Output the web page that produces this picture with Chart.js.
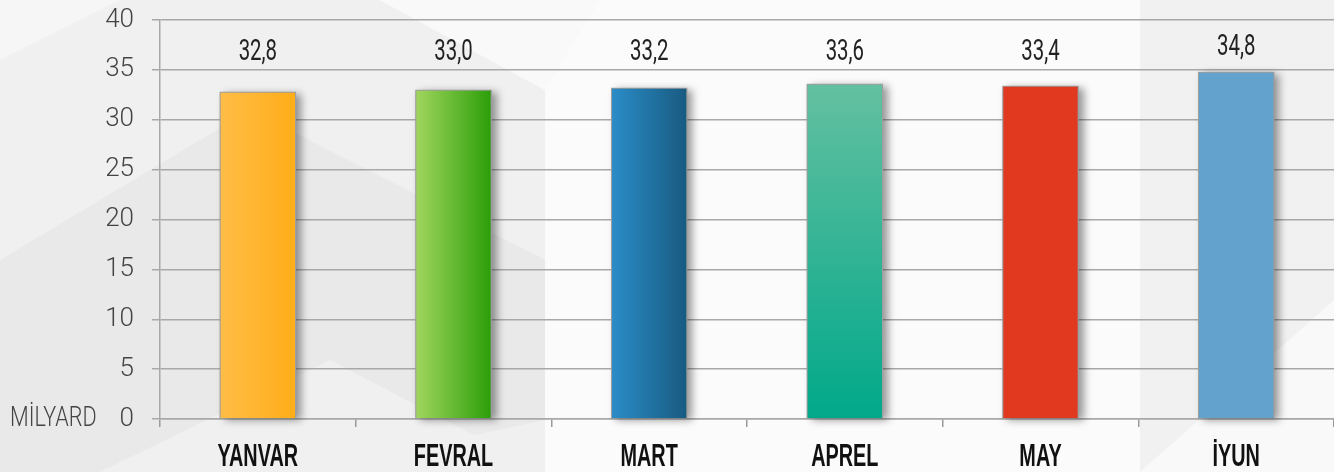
<!DOCTYPE html>
<html>
<head>
<meta charset="utf-8">
<script src="https://cdn.jsdelivr.net/npm/chart.js@4.4.1/dist/chart.umd.min.js"></script>
<style>
  html, body { margin: 0; padding: 0; background: #fbfbfb; }
  #wrap { width: 1334px; height: 472px; }
</style>
</head>
<body>
<div id="wrap"><canvas id="chart"></canvas></div>
<script>
// dữ liệu
const months = ["YANVAR", "FEVRAL", "MART", "APREL", "MAY", "İYUN"];
const values = [32.8, 33.0, 33.2, 33.6, 33.4, 34.8];
const valueLabels = ["32,8", "33,0", "33,2", "33,6", "33,4", "34,8"];
const yTicks = [0, 5, 10, 15, 20, 25, 30, 35, 40];
const unitLabel = "MİLYARD";

// màu cột: [đầu, cuối, hướng]
const barColors = [
    ["#ffbd47", "#ffad18", "h"],
    ["#a2d65e", "#2b9e08", "h"],
    ["#2b8dc8", "#185a80", "h"],
    ["#64c0a0", "#00a88a", "v"],
    ["#e0391f", "#e0391f", "h"],
    ["#62a2cc", "#62a2cc", "h"]
];

const BAR_PCT = 0.39;

function barFill(ctx) {
    const chart = ctx.chart;
    const c = barColors[ctx.dataIndex];
    if (!chart.chartArea || c[0] === c[1]) return c[0];
    const xs = chart.scales.x, ys = chart.scales.y;
    const xc = xs.getPixelForValue(ctx.dataIndex);
    const half = xs.width / months.length * BAR_PCT / 2;
    let g;
    if (c[2] === "h") {
        g = chart.ctx.createLinearGradient(xc - half, 0, xc + half, 0);
    } else {
        g = chart.ctx.createLinearGradient(0, ys.getPixelForValue(values[ctx.dataIndex]), 0, ys.getPixelForValue(0));
    }
    g.addColorStop(0, c[0]);
    g.addColorStop(1, c[1]);
    return g;
}

// nền trang trí
const bgPlugin = {
    id: "bg",
    beforeDraw(chart) {
        const ctx = chart.ctx;
        ctx.save();
        const poly = (pts, col) => {
            ctx.beginPath();
            ctx.moveTo(pts[0][0], pts[0][1]);
            for (let i = 1; i < pts.length; i++) ctx.lineTo(pts[i][0], pts[i][1]);
            ctx.closePath();
            ctx.fillStyle = col;
            ctx.fill();
        };
        poly([[0, 0], [380, 0], [545, 90], [545, 472], [0, 472]], "#f0f0f0");
        poly([[0, 260], [250, 110], [545, 260], [545, 420], [300, 472], [0, 472]], "#e9e9e9");
        poly([[0, 60], [120, 0], [0, 0]], "#f6f6f6");
        poly([[100, 472], [330, 360], [545, 472]], "#f0f0f0");
        poly([[380, 0], [600, 0], [545, 90]], "#f9f9f9");
        poly([[1140, 0], [1334, 0], [1334, 472], [1140, 472]], "#f1f1f1");
        poly([[1140, 472], [1334, 300], [1334, 472]], "#f9f9f9");
        ctx.restore();
    }
};

// bóng đổ cho cột (vẽ trước các cột)
const shadowPlugin = {
    id: "barShadow",
    beforeDatasetsDraw(chart) {
        const ctx = chart.ctx;
        const meta = chart.getDatasetMeta(0);
        ctx.save();
        ctx.shadowColor = "rgba(0,0,0,0.4)";
        ctx.shadowBlur = 8;
        ctx.shadowOffsetX = 5;
        ctx.shadowOffsetY = 2;
        ctx.fillStyle = "#999";
        meta.data.forEach(bar => {
            const p = bar.getProps(["x", "y", "base", "width"], true);
            ctx.fillRect(p.x - p.width / 2, p.y, p.width, p.base - p.y);
        });
        ctx.restore();
    }
};

// nhãn giá trị, nhãn tháng, đơn vị
const labelPlugin = {
    id: "labels",
    afterDraw(chart) {
        const ctx = chart.ctx;
        const xs = chart.scales.x, ys = chart.scales.y;
        ctx.save();
        ctx.textAlign = "center";
        ctx.textBaseline = "middle";
        ctx.fillStyle = "#222";
        ctx.font = "30px Roboto, sans-serif";
        values.forEach((v, i) => {
            const y = ys.getPixelForValue(Math.max(v + 2.4, 36.7));
            ctx.save();
            ctx.translate(xs.getPixelForValue(i), y);
            ctx.scale(0.68, 1);
            ctx.fillText(valueLabels[i], 0, 0);
            ctx.restore();
        });
        ctx.fillStyle = "#111";
        ctx.font = "bold 32px 'Liberation Sans', 'DejaVu Sans', sans-serif";
        months.forEach((m, i) => {
            ctx.save();
            ctx.translate(xs.getPixelForValue(i), 457);
            ctx.scale(0.62, 1);
            ctx.fillText(m, 0, 0);
            ctx.restore();
        });
        ctx.fillStyle = "#444";
        ctx.textAlign = "left";
        ctx.font = "300 27px Roboto, sans-serif";
        ctx.save();
        ctx.translate(10, ys.getPixelForValue(0));
        ctx.scale(0.8, 1);
        ctx.fillText(unitLabel, 0, 0);
        ctx.restore();
        ctx.restore();
    }
};

new Chart(document.getElementById("chart"), {
    type: "bar",
    data: {
        labels: months,
        datasets: [{
            data: values,
            backgroundColor: barFill,
            borderColor: "rgba(160,160,160,0.9)",
            borderWidth: 1,
            categoryPercentage: 1,
            barPercentage: BAR_PCT
        }]
    },
    options: {
        responsive: true,
        maintainAspectRatio: false,
        animation: false,
        layout: { padding: { top: 20, right: 0, bottom: 0, left: 0 } },
        plugins: { legend: { display: false }, tooltip: { enabled: false } },
        scales: {
            x: {
                afterFit: s => { s.height = 53; s.paddingLeft = 0; s.paddingRight = 0; },
                ticks: { display: false },
                grid: { offset: true, drawOnChartArea: false, drawTicks: true, tickLength: 8, color: "#9a9a9a", lineWidth: 1.5 },
                border: { display: true, color: "#a8a8a8", width: 1.5 }
            },
            y: {
                min: 0,
                max: 40,
                afterFit: s => { s.width = 160; s.paddingTop = 0; s.paddingBottom = 0; },
                afterBuildTicks: s => { s.ticks = yTicks.map(v => ({ value: v })); },
                ticks: {
                    padding: 18,
                    color: "#444",
                    font: { family: "Roboto", weight: 300, size: 26 }
                },
                grid: { color: "#a8a8a8", lineWidth: 1.5, tickLength: 8 },
                border: { display: true, color: "#a8a8a8", width: 1.5 }
            }
        }
    },
    plugins: [bgPlugin, shadowPlugin, labelPlugin]
});
</script>
</body>
</html>
